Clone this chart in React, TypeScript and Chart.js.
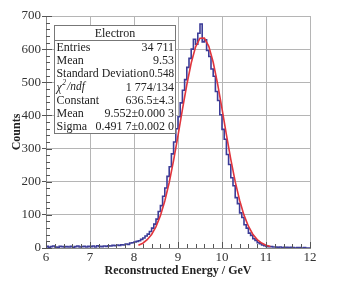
import React, { useEffect, useRef } from "react";
import { Chart, registerables } from "chart.js";

Chart.register(...registerables);

// Histogram: bins of width 0.05 GeV starting at 6 GeV
const binStart = 6;
const binWidth = 0.05;
const counts = [
  3, 5, 2, 4, 6, 3, 2, 5, 4, 3,
  4, 3, 5, 2, 4, 6, 3, 4, 5, 3,
  5, 4, 6, 3, 7, 5, 4, 6, 5, 7,
  6, 8, 7, 9, 8, 10, 9, 12, 11, 15,
  16, 18, 20, 22, 26, 30, 36, 42, 50, 60,
  72, 87, 110, 128, 156, 181, 216, 245, 284, 320,
  360, 396, 438, 476, 508, 545, 572, 600, 630, 615,
  648, 676, 622, 628, 596, 578, 540, 518, 472, 445,
  402, 358, 328, 282, 252, 212, 188, 152, 134, 106,
  92, 70, 60, 45, 38, 28, 23, 16, 13, 9,
  7, 5, 4, 4, 3, 3, 2, 3, 1, 2,
  2, 1, 2, 1, 0, 1, 1, 0, 1, 0,
];

// Gaussian fit curve
const fitX = [
  8.1, 8.2, 8.3, 8.4, 8.5, 8.6, 8.7, 8.8, 8.9, 9.0,
  9.1, 9.2, 9.3, 9.4, 9.5, 9.6, 9.7, 9.8, 9.9, 10.0,
  10.1, 10.2, 10.3, 10.4, 10.5, 10.6, 10.7, 10.8, 10.9, 11.0, 11.1,
];
const fitY = [
  8.1, 14.5, 24.9, 40.9, 64.5, 97.7, 141.9, 197.6, 264.2, 339.0,
  417.2, 492.6, 558.2, 606.8, 632.9, 633.5, 608.3, 560.5, 495.5, 420.3,
  342.1, 267.1, 200.1, 143.9, 99.2, 65.7, 41.7, 25.4, 14.9, 8.3, 4.5,
];

const statsTitle = "Electron";
const statsLabels = ["Entries", "Mean", "Standard Deviation", "CHI", "Constant", "Mean", "Sigma"];
const statsValues = ["34 711", "9.53", "0.548", "1 774/134", "636.5±4.3", "9.552±0.000 3", "0.491 7±0.002 0"];

const xTitle = "Reconstructed Energy / GeV";
const yTitle = "Counts";

const FONT = "'Liberation Serif', 'DejaVu Serif', serif";

const minorTicksPlugin = {
  id: "minorTicks",
  afterDraw(chart: any) {
    const { ctx, chartArea: a, scales } = chart;
    const xs = scales.x;
    const ys = scales.y;
    ctx.save();
    ctx.strokeStyle = "#555";
    ctx.lineWidth = 1;
    ctx.beginPath();
    for (let v = 0; v <= 700; v += 20) {
      const y = Math.round(ys.getPixelForValue(v)) + 0.5;
      const len = v % 100 === 0 ? 6 : 4;
      ctx.moveTo(a.left, y);
      ctx.lineTo(a.left + len, y);
    }
    for (let i = 0; i <= 30; i++) {
      const v = 6 + i * 0.2;
      const x = Math.round(xs.getPixelForValue(v)) + 0.5;
      const len = i % 5 === 0 ? 6 : 4;
      ctx.moveTo(x, a.bottom);
      ctx.lineTo(x, a.bottom - len);
    }
    ctx.stroke();
    ctx.restore();
  },
};

const statsPlugin = {
  id: "statsBox",
  afterDraw(chart: any) {
    const { ctx, chartArea: a } = chart;
    const x0 = a.left + 8.5;
    const y0 = a.top + 9.5;
    const w = 121;
    const h = 108;
    ctx.save();
    ctx.fillStyle = "#ffffff";
    ctx.fillRect(x0, y0, w, h);
    ctx.strokeStyle = "#777";
    ctx.lineWidth = 1;
    ctx.strokeRect(x0, y0, w, h);
    ctx.beginPath();
    ctx.moveTo(x0, y0 + 15);
    ctx.lineTo(x0 + w, y0 + 15);
    ctx.stroke();

    ctx.fillStyle = "#222";
    ctx.textBaseline = "middle";
    ctx.font = `12px ${FONT}`;
    ctx.textAlign = "center";
    ctx.fillText(statsTitle, x0 + w / 2, y0 + 8);

    for (let i = 0; i < statsLabels.length; i++) {
      const y = y0 + 22 + i * 13.3;
      const lx = x0 + 2;
      ctx.textAlign = "left";
      if (statsLabels[i] === "CHI") {
        ctx.font = `italic 12px ${FONT}`;
        ctx.fillText("χ", lx, y);
        const cw = ctx.measureText("χ").width;
        ctx.font = `italic 7.5px ${FONT}`;
        ctx.fillText("2", lx + cw + 0.5, y - 4);
        const sw = ctx.measureText("2").width;
        ctx.font = `italic 11.5px ${FONT}`;
        ctx.fillText("/ndf", lx + cw + sw + 1.5, y);
      } else {
        ctx.font = `12px ${FONT}`;
        ctx.fillText(statsLabels[i], lx, y, 92);
      }
      ctx.font = `12px ${FONT}`;
      ctx.textAlign = "right";
      ctx.fillText(statsValues[i], x0 + w - 1.5, y, i === 2 ? 25 : 90);
    }
    ctx.restore();
  },
};

export default function App() {
  const ref = useRef<HTMLCanvasElement | null>(null);

  useEffect(() => {
    if (!ref.current) return;
    const histPoints = counts.map((c, i) => ({ x: binStart + i * binWidth, y: c }));
    histPoints.push({ x: binStart + counts.length * binWidth, y: counts[counts.length - 1] });
    const fitPoints = fitX.map((x, i) => ({ x, y: fitY[i] }));

    const chart = new Chart(ref.current, {
      type: "line",
      data: {
        datasets: [
          {
            label: "Fit",
            data: fitPoints,
            borderColor: "#e0353d",
            borderWidth: 1.6,
            pointRadius: 0,
            tension: 0,
            fill: false,
          },
          {
            label: "Electron",
            data: histPoints,
            borderColor: "#3c3c98",
            borderWidth: 1.6,
            pointRadius: 0,
            stepped: "after",
            fill: false,
          },
        ],
      },
      options: {
        animation: false,
        responsive: false,
        maintainAspectRatio: false,
        layout: { padding: { left: 0, right: 39, top: 16, bottom: 0 } },
        plugins: { legend: { display: false }, tooltip: { enabled: false } },
        scales: {
          x: {
            type: "linear",
            min: 6,
            max: 12,
            afterFit: (s: any) => {
              s.height = 37;
            },
            ticks: {
              stepSize: 1,
              padding: 2,
              color: "#333",
              font: { family: FONT, size: 13 },
            },
            grid: { color: "#b5b5b5", drawTicks: false, lineWidth: 1 },
            border: { color: "#888" },
            title: {
              display: true,
              text: xTitle,
              color: "#222",
              font: { family: FONT, size: 12, weight: "bold" },
              padding: { top: 0, bottom: 7 },
            },
          },
          y: {
            min: 0,
            max: 700,
            afterFit: (s: any) => {
              s.width = 46;
            },
            ticks: {
              stepSize: 100,
              padding: 1,
              color: "#333",
              font: { family: FONT, size: 13 },
            },
            grid: { color: "#b5b5b5", drawTicks: true, tickLength: 4, tickColor: "#555", lineWidth: 1 },
            border: { color: "#888" },
            title: {
              display: true,
              text: yTitle,
              color: "#222",
              font: { family: FONT, size: 12, weight: "bold" },
              padding: { top: 10, bottom: 0 },
            },
          },
        },
      },
      plugins: [minorTicksPlugin, statsPlugin],
    });
    return () => chart.destroy();
  }, []);

  return (
    <div style={{ position: "fixed", left: 0, top: 0, width: 349, height: 285, background: "#fff" }}>
      <canvas ref={ref} width={349} height={285} style={{ width: 349, height: 285, display: "block" }} />
    </div>
  );
}
